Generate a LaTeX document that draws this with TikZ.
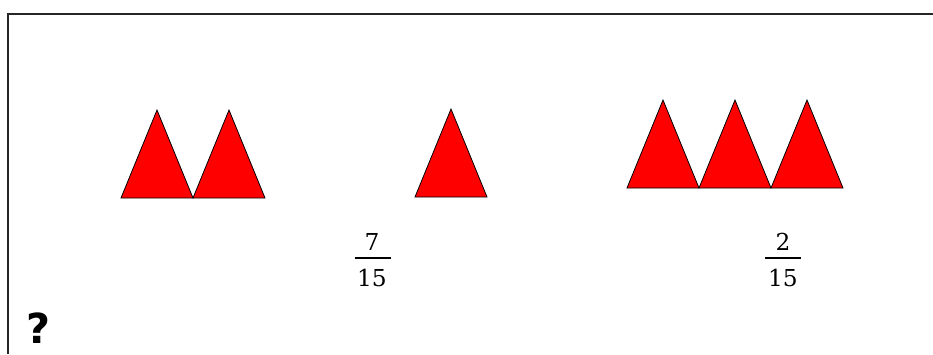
\documentclass[tikz,border=0pt]{standalone}
\usepackage{fontspec}
\setmainfont{DejaVu Serif}
\newfontfamily\qfont{DejaVu Sans}
\begin{document}
\begin{tikzpicture}[x=0.75pt,y=-0.75pt,
  tri/.pic={\filldraw[fill=red,draw=black,line width=0.6pt,line join=miter] (-36,0) -- (0,-88) -- (36,0) -- cycle;},
  numtxt/.style={font=\fontsize{17.5}{20}\selectfont, inner sep=0pt},
  fracbar/.style={line width=1.2pt},
  frame/.style={line width=1.5pt, draw=black!85}]
\useasboundingbox (0,0) rectangle (933,354);
\draw[frame] (7.5,354) -- (7.5,13.5) -- (933,13.5);
% group 1
\pic at (157,198) {tri};
\pic at (229,198) {tri};
% single
\pic at (451,197) {tri};
% group 3
\pic at (663,188) {tri};
\pic at (735,188) {tri};
\pic at (807,188) {tri};
% fraction 7/15
\node[numtxt] (n1) at (372,242) {7};
\node[numtxt] (d1) at (372,278) {15};
\coordinate (b1l) at (355,258);
\coordinate (b1r) at (391,258);
\draw[fracbar] (b1l) -- (b1r);
% fraction 2/15
\node[numtxt] (n2) at (783,242) {2};
\node[numtxt] (d2) at (783,278) {15};
\coordinate (b2l) at (765,258);
\coordinate (b2r) at (801,258);
\draw[fracbar] (b2l) -- (b2r);
% question mark
\node[font=\qfont\bfseries\fontsize{31}{34}\selectfont, inner sep=0pt] (q) at (38.5,328) {?};
\end{tikzpicture}
\end{document}
